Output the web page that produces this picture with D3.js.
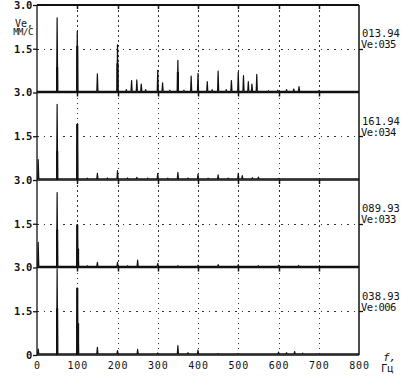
<!DOCTYPE html>
<html>
<head>
<meta charset="utf-8">
<script src="https://cdn.jsdelivr.net/npm/d3@7"></script>
<style>
  body { margin: 0; background: #fff; }
  svg { display: block; }
  .lbl { font-family: "DejaVu Sans Mono", monospace; fill: #111; }
</style>
</head>
<body>
<svg width="411" height="384"></svg>
<script>
// frequency axis, Hz
var freqTicks = [0, 100, 200, 300, 400, 500, 600, 700, 800];
var gridFreqs = [100, 200, 300, 400, 500, 600, 700];

// labels on the right of every panel
var panelDates = ["013.94", "161.94", "089.93", "038.93"];
var panelVe = ["Ve:035", "Ve:034", "Ve:033", "Ve:006"];

// spectrum lines [freq Hz, Ve mm/s], top panel first
var peaks1 = [[50, 2.56], [100, 2.09], [150, 0.64], [200, 1.63], [222, 0.1], [235, 0.41], [248, 0.43],
  [259, 0.29], [270, 0.1], [300, 0.76], [312, 0.33], [330, 0.08], [350, 1.10], [365, 0.08], [383, 0.56],
  [400, 0.66], [423, 0.37], [435, 0.1], [450, 0.73], [470, 0.1], [483, 0.41], [500, 0.70], [513, 0.58],
  [525, 0.37], [534, 0.29], [546, 0.62], [575, 0.06], [598, 0.08], [620, 0.1], [638, 0.12], [651, 0.2],
  [700, 0.06]];
var peaks2 = [[3, 0.7], [50, 2.59], [100, 1.92], [125, 0.06], [150, 0.23], [175, 0.07], [200, 0.32],
  [225, 0.07], [248, 0.09], [275, 0.06], [300, 0.23], [325, 0.06], [350, 0.26], [375, 0.07], [400, 0.2],
  [425, 0.06], [450, 0.18], [475, 0.06], [500, 0.23], [510, 0.15], [535, 0.08], [550, 0.1], [600, 0.05]];
var peaks3 = [[3, 0.86], [50, 2.57], [100, 1.47], [102, 0.64], [125, 0.06], [150, 0.18], [200, 0.18],
  [225, 0.06], [250, 0.25], [300, 0.14], [350, 0.06], [400, 0.08], [450, 0.1], [500, 0.1], [550, 0.06],
  [600, 0.08], [650, 0.07]];
var peaks4 = [[3, 0.2], [50, 2.95], [100, 2.3], [102, 1.08], [150, 0.26], [200, 0.15], [250, 0.19],
  [300, 0.07], [350, 0.32], [375, 0.08], [400, 0.17], [450, 0.05], [500, 0.05], [600, 0.1], [620, 0.08],
  [640, 0.12], [660, 0.06]];

// dense lower part of the strong lines
var core1 = [[50, 0.87], [100, 1.6], [200, 1.0], [350, 0.7]];
var core2 = [[50, 0.99], [100, 1.92]];
var core3 = [[50, 1.3], [100, 1.47], [102, 0.64]];
var core4 = [[50, 1.6], [100, 2.3], [102, 1.08]];

var allPeaks = [peaks1, peaks2, peaks3, peaks4];
var allCores = [core1, core2, core3, core4];
var floorVe = 0.04;

var svg = d3.select("svg");
var ink = "#111";

var x = d3.scaleLinear().domain([0, 800]).range([37, 359]);
var panelTop = d3.scaleLinear().domain([0, 4]).range([5, 355]);

function yOf(i) {
  return d3.scaleLinear().domain([0, 3]).range([panelTop(i + 1), panelTop(i)]);
}

var line = d3.line().x(function(d) { return x(d[0]); });

for (var i = 0; i < 4; i++) {
  var y = yOf(i);
  var g = svg.append("g");

  // dotted grid
  g.selectAll(".vg").data(gridFreqs).enter().append("line")
    .attr("x1", function(d) { return Math.round(x(d)) + 0.5; })
    .attr("x2", function(d) { return Math.round(x(d)) + 0.5; })
    .attr("y1", y(3)).attr("y2", y(0))
    .attr("stroke", "#333").attr("stroke-width", 1).attr("stroke-dasharray", "1.5 3.5")
    .attr("shape-rendering", "crispEdges");
  g.selectAll(".vt").data(gridFreqs).enter().append("line")
    .attr("x1", function(d) { return Math.round(x(d)) + 0.5; })
    .attr("x2", function(d) { return Math.round(x(d)) + 0.5; })
    .attr("y1", y(3)).attr("y2", y(3) + 4)
    .attr("stroke", ink).attr("stroke-width", 1.5);
  g.append("line")
    .attr("x1", x(0)).attr("x2", x(800))
    .attr("y1", Math.round(y(1.5)) + 0.5).attr("y2", Math.round(y(1.5)) + 0.5)
    .attr("stroke", "#333").attr("stroke-width", 1).attr("stroke-dasharray", "1.6 5")
    .attr("shape-rendering", "crispEdges");
  g.append("line")
    .attr("x1", x(800)).attr("x2", x(800) + 4)
    .attr("y1", Math.round(y(1.5)) + 0.5).attr("y2", Math.round(y(1.5)) + 0.5)
    .attr("stroke", ink).attr("stroke-width", 1.3);

  // left axis
  var ax = d3.axisLeft(y)
    .tickValues(i === 3 ? [0, 1.5, 3] : [1.5, 3])
    .tickSize(4).tickPadding(1)
    .tickFormat(function(d) { return d === 0 ? "0" : d3.format(".1f")(d); });
  var axg = g.append("g").attr("transform", "translate(" + x(0) + ",0)").call(ax);
  axg.select(".domain").remove();
  axg.selectAll("line").attr("stroke", ink).attr("stroke-width", 1.3);
  axg.selectAll("text").attr("class", "lbl").attr("font-size", 10.5)
    .attr("font-weight", "bold").attr("letter-spacing", -0.3).attr("fill", ink);

  // spectrum trace
  var pts = [[0, floorVe]];
  allPeaks[i].slice().sort(function(a, b) { return a[0] - b[0]; }).forEach(function(p) {
    pts.push([p[0] - 1.4, floorVe], [p[0], p[1]], [p[0] + 1.4, floorVe]);
  });
  pts.push([800, floorVe]);
  g.append("path")
    .attr("d", line.y(function(d) { return y(d[1]); })(pts))
    .attr("fill", "none").attr("stroke", ink).attr("stroke-width", 1.2)
    .attr("stroke-linejoin", "round");
  g.selectAll(".core").data(allCores[i]).enter().append("line")
    .attr("x1", function(d) { return x(d[0]); }).attr("x2", function(d) { return x(d[0]); })
    .attr("y1", y(0)).attr("y2", function(d) { return y(d[1]); })
    .attr("stroke", ink).attr("stroke-width", 2.2);
  g.append("line")
    .attr("x1", x(0)).attr("x2", x(800)).attr("y1", y(0)).attr("y2", y(0))
    .attr("stroke", ink).attr("stroke-width", 1.5);

  // right labels
  g.append("text").attr("class", "lbl").attr("x", 362).attr("y", y(3) + 28)
    .attr("dominant-baseline", "central").attr("font-size", 10.5).text(panelDates[i]);
  g.append("text").attr("class", "lbl").attr("x", 361).attr("y", y(3) + 39)
    .attr("dominant-baseline", "central").attr("font-size", 10.5).attr("letter-spacing", -0.5)
    .text(panelVe[i]);
}

// frame
svg.append("line").attr("x1", x(0)).attr("x2", x(800)).attr("y1", panelTop(0)).attr("y2", panelTop(0))
  .attr("stroke", ink).attr("stroke-width", 2);
svg.append("line").attr("x1", x(0)).attr("x2", x(0)).attr("y1", panelTop(0)).attr("y2", panelTop(4))
  .attr("stroke", ink).attr("stroke-width", 1.3);
svg.append("line").attr("x1", x(800)).attr("x2", x(800)).attr("y1", panelTop(0)).attr("y2", panelTop(4))
  .attr("stroke", ink).attr("stroke-width", 1.5);

// bottom axis
var bx = d3.axisBottom(x).tickValues(freqTicks).tickSize(0).tickPadding(7);
var bxg = svg.append("g").attr("transform", "translate(0," + panelTop(4) + ")").call(bx);
bxg.select(".domain").remove();
bxg.selectAll("text").attr("class", "lbl").attr("font-size", 10).attr("letter-spacing", 0.8)
  .attr("fill", ink);

// units
svg.append("text").attr("class", "lbl").attr("x", 24).attr("y", 23).attr("text-anchor", "middle")
  .attr("dominant-baseline", "central").attr("font-size", 10).text("Ve,");
svg.append("text").attr("class", "lbl").attr("x", 23).attr("y", 32).attr("text-anchor", "middle")
  .attr("dominant-baseline", "central").attr("font-size", 9).attr("letter-spacing", -0.5).text("ММ/С");
svg.append("text").attr("class", "lbl").attr("x", 383).attr("y", 357)
  .attr("dominant-baseline", "central").attr("font-size", 11).attr("font-style", "italic").text("f,");
svg.append("text").attr("class", "lbl").attr("x", 381).attr("y", 368)
  .attr("dominant-baseline", "central").attr("font-size", 10.5).text("Гц");
</script>
</body>
</html>
